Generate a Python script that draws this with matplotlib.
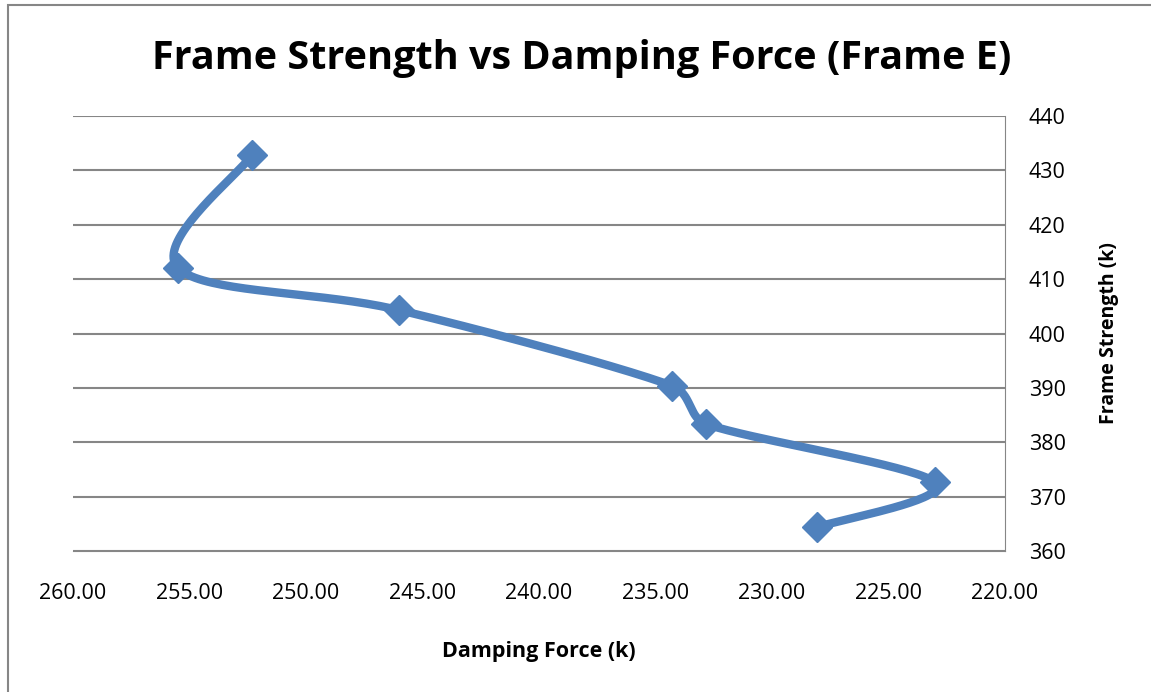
import numpy as np
import matplotlib.pyplot as plt
from matplotlib.patches import Rectangle

# data
damping_force = [252.3, 255.5, 246.0, 234.3, 232.85, 223.0, 228.05]
frame_strength = [432.9, 412.1, 404.3, 390.4, 383.4, 372.6, 364.4]
x_ticks = [260, 255, 250, 245, 240, 235, 230, 225, 220]
y_ticks = [360, 370, 380, 390, 400, 410, 420, 430, 440]


def smooth(x, y, sx=23.3, sy=5.44, n=40):
    # excel-like smoothed line, worked out in pixel units
    p = np.column_stack([np.array(x) * sx, np.array(y) * sy])
    out = []
    for i in range(len(p) - 1):
        p0 = p[i - 1] if i > 0 else p[i]
        p3 = p[i + 2] if i + 2 < len(p) else p[i + 1]
        d1 = (p[i + 1] - p0) / 6
        d2 = (p3 - p[i]) / 6
        seg = np.linalg.norm(p[i + 1] - p[i])
        tot = np.linalg.norm(d1) + np.linalg.norm(d2)
        if tot > 0.8 * seg:
            d1 = d1 * 0.8 * seg / tot
            d2 = d2 * 0.8 * seg / tot
        c1 = p[i] + d1
        c2 = p[i + 1] - d2
        t = np.linspace(0, 1, n)[:, None]
        b = ((1 - t) ** 3 * p[i] + 3 * (1 - t) ** 2 * t * c1
             + 3 * (1 - t) * t ** 2 * c2 + t ** 3 * p[i + 1])
        out.append(b)
    s = np.vstack(out)
    return s[:, 0] / sx, s[:, 1] / sy


plt.rcParams['font.family'] = ['Open Sans', 'DejaVu Sans']

fig = plt.figure(figsize=(11.51, 6.92), dpi=100)
ax = fig.add_axes([73 / 1151, 1 - 551 / 692, (1005 - 73) / 1151, (551 - 116) / 692])

col = '#4F81BD'
lx, ly = smooth(damping_force, frame_strength)
ax.plot(lx, ly, color=col, lw=6, solid_capstyle='round', zorder=3)
ax.plot(damping_force, frame_strength, ls='none', marker='D', ms=15,
        color=col, zorder=4)

ax.set_xlim(260, 220)
ax.set_ylim(360, 440)
ax.set_xticks(x_ticks)
ax.set_xticklabels([f'{v:.2f}' for v in x_ticks])
ax.set_yticks(y_ticks)
ax.yaxis.tick_right()
ax.yaxis.set_label_position('right')
ax.tick_params(length=0, labelsize=15.5)
ax.tick_params(axis='x', pad=23)
ax.tick_params(axis='y', pad=17)
ax.grid(axis='y', color='#868686', lw=1.5)
for s in ['top', 'left']:
    ax.spines[s].set_visible(False)
ax.spines['right'].set_color('#868686')
ax.spines['bottom'].set_color('#868686')

ax.set_xlabel('Damping Force (k)', fontsize=15.5, fontweight='bold', labelpad=27)
ax.set_ylabel('Frame Strength (k)', fontsize=14, fontweight='bold', labelpad=24)
fig.text(0.505, 1 - 58 / 692, 'Frame Strength vs Damping Force (Frame E)',
         ha='center', va='center', fontsize=28.5, fontweight='bold')

fig.patches.append(Rectangle((8 / 1151, -0.1), 1.2, 1.1 - 5 / 692, transform=fig.transFigure,
                             fill=False, ec='#868686', lw=1.5))

fig.savefig('out.png', dpi=100)
